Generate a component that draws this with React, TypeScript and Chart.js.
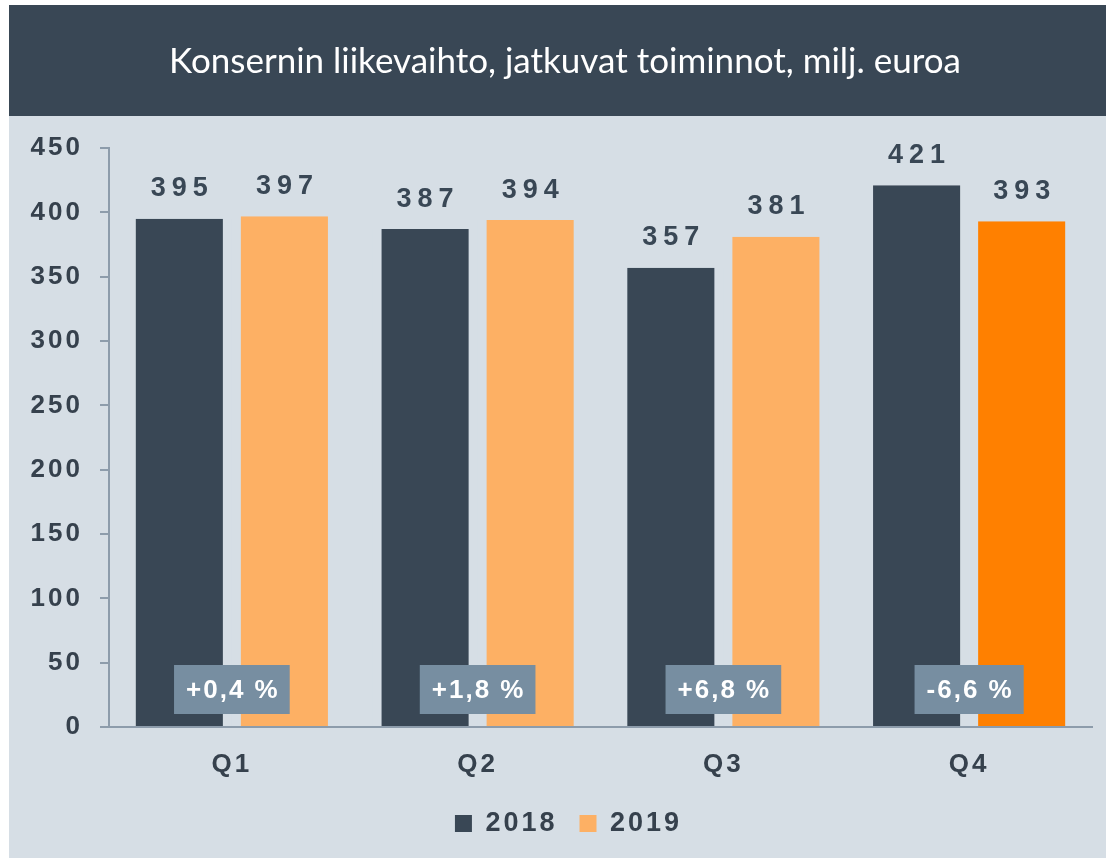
import { useEffect, useRef } from 'react';
import { Chart, registerables } from 'chart.js';

Chart.register(...registerables);

const categories = ['Q1', 'Q2', 'Q3', 'Q4'];
const seriesNames = ['2018', '2019'];
const values2018 = [395, 387, 357, 421];
const values2019 = [397, 394, 381, 393];
const changeLabels = ['+0,4 %', '+1,8 %', '+6,8 %', '-6,6 %'];
const yMin = 0;
const yMax = 450;
const yStep = 50;
const titleText = 'Konsernin liikevaihto, jatkuvat toiminnot, milj. euroa';

const DARK = '#394755';
const LIGHT_ORANGE = '#fdb064';
const BRIGHT_ORANGE = '#ff8000';
const BG = '#d6dee5';
const BOX = '#778ea1';
const TEXT = '#36414d';
const AXIS = '#8d9cab';
const colors2019 = [LIGHT_ORANGE, LIGHT_ORANGE, LIGHT_ORANGE, BRIGHT_ORANGE];

const FONT = '"Liberation Sans", Arial, sans-serif';
const SPACING = '3px';

function patchDraw(ctx: any, box: any, dx: number, spacing: string | null) {
  if (!box || box._patched) return;
  const orig = box.draw.bind(box);
  box.draw = (...args: any[]) => {
    const prev = ctx.letterSpacing;
    ctx.save();
    ctx.translate(dx, 0);
    if (spacing !== null) ctx.letterSpacing = spacing;
    orig(...args);
    ctx.restore();
    ctx.letterSpacing = prev;
  };
  box._patched = true;
}

const decorPlugin = {
  id: 'decor',
  beforeUpdate(chart: any) {
    chart.ctx.letterSpacing = SPACING;
  },
  beforeDraw(chart: any) {
    const ctx = chart.ctx;
    ctx.save();
    ctx.fillStyle = DARK;
    ctx.fillRect(0, 0, chart.width, 111);
    ctx.restore();
    ctx.letterSpacing = SPACING;
    patchDraw(ctx, chart.titleBlock, 14.5, '0px');
    patchDraw(ctx, chart.legend, 18, null);
  },
  afterDatasetsDraw(chart: any) {
    const ctx = chart.ctx;
    ctx.save();
    // value labels
    ctx.letterSpacing = '6px';
    ctx.font = `bold 27px ${FONT}`;
    ctx.fillStyle = DARK;
    ctx.textAlign = 'center';
    ctx.textBaseline = 'middle';
    chart.data.datasets.forEach((ds: any, i: number) => {
      const meta = chart.getDatasetMeta(i);
      meta.data.forEach((bar: any, j: number) => {
        ctx.fillText(String(ds.data[j]), bar.x + 3, bar.y - 30);
      });
    });
    // change boxes
    ctx.letterSpacing = '2px';
    ctx.font = `bold 26px ${FONT}`;
    const xs = chart.scales.x;
    const cy = chart.chartArea.bottom - 37.5;
    changeLabels.forEach((lbl, j) => {
      const cx = xs.getPixelForValue(j);
      const w = ctx.measureText(lbl).width - 2;
      const bw = w + 24;
      ctx.fillStyle = BOX;
      ctx.fillRect(cx - bw / 2, cy - 24.5, bw, 49);
      ctx.fillStyle = '#ffffff';
      ctx.fillText(lbl, cx + 1, cy + 1);
    });
    ctx.restore();
  },
};

export default function App() {
  const ref = useRef<HTMLCanvasElement | null>(null);
  useEffect(() => {
    if (!ref.current) return;
    const chart = new Chart(ref.current, {
      type: 'bar',
      data: {
        labels: categories,
        datasets: [
          {
            label: seriesNames[0],
            data: values2018,
            backgroundColor: DARK,
            borderColor: BG,
            borderWidth: { left: 9, right: 9, top: 0, bottom: 0 },
            borderSkipped: false,
            categoryPercentage: 0.855,
            barPercentage: 1,
          },
          {
            label: seriesNames[1],
            data: values2019,
            backgroundColor: colors2019,
            borderColor: BG,
            borderWidth: { left: 9, right: 9, top: 0, bottom: 0 },
            borderSkipped: false,
            categoryPercentage: 0.855,
            barPercentage: 1,
          },
        ],
      },
      options: {
        responsive: true,
        maintainAspectRatio: false,
        animation: false,
        layout: { padding: { top: 0, left: 0, right: 14, bottom: 11 } },
        plugins: {
          tooltip: { enabled: false },
          title: {
            display: true,
            text: titleText,
            color: '#ffffff',
            font: { family: 'Lato, "Open Sans", sans-serif', size: 35, weight: 'normal', lineHeight: 1.2 },
            padding: { top: 36, bottom: 65 },
          },
          legend: {
            position: 'bottom',
            labels: {
              boxWidth: 17,
              boxHeight: 17,
              padding: 22,
              color: TEXT,
              font: { family: FONT, size: 27, weight: 'bold' },
              generateLabels: (c: any) =>
                c.data.datasets.map((ds: any, i: number) => ({
                  text: ds.label,
                  fillStyle: i === 0 ? DARK : LIGHT_ORANGE,
                  strokeStyle: 'rgba(0,0,0,0)',
                  lineWidth: 0,
                  hidden: false,
                  datasetIndex: i,
                  fontColor: TEXT,
                })),
            },
          },
        },
        scales: {
          x: {
            grid: { display: false },
            border: { display: true, color: AXIS, width: 2 },
            ticks: {
              color: TEXT,
              font: { family: FONT, size: 26, weight: 'bold' },
              padding: 14,
            },
            afterFit: (s: any) => {
              s.height = 61;
            },
          },
          y: {
            min: yMin,
            max: yMax,
            grid: {
              display: true,
              drawOnChartArea: false,
              drawTicks: true,
              tickLength: 9,
              color: AXIS,
              lineWidth: 2,
            },
            border: { display: true, color: AXIS, width: 2 },
            ticks: {
              stepSize: yStep,
              color: TEXT,
              font: { family: FONT, size: 26, weight: 'bold' },
              padding: 17,
            },
            afterFit: (s: any) => {
              s.width = 100;
            },
          },
        },
      },
      plugins: [decorPlugin],
    });
    return () => chart.destroy();
  }, []);
  return (
    <div
      style={{
        position: 'absolute',
        left: 9,
        top: 5,
        width: 1097,
        height: 853,
        background: BG,
      }}
    >
      <canvas ref={ref} />
    </div>
  );
}
